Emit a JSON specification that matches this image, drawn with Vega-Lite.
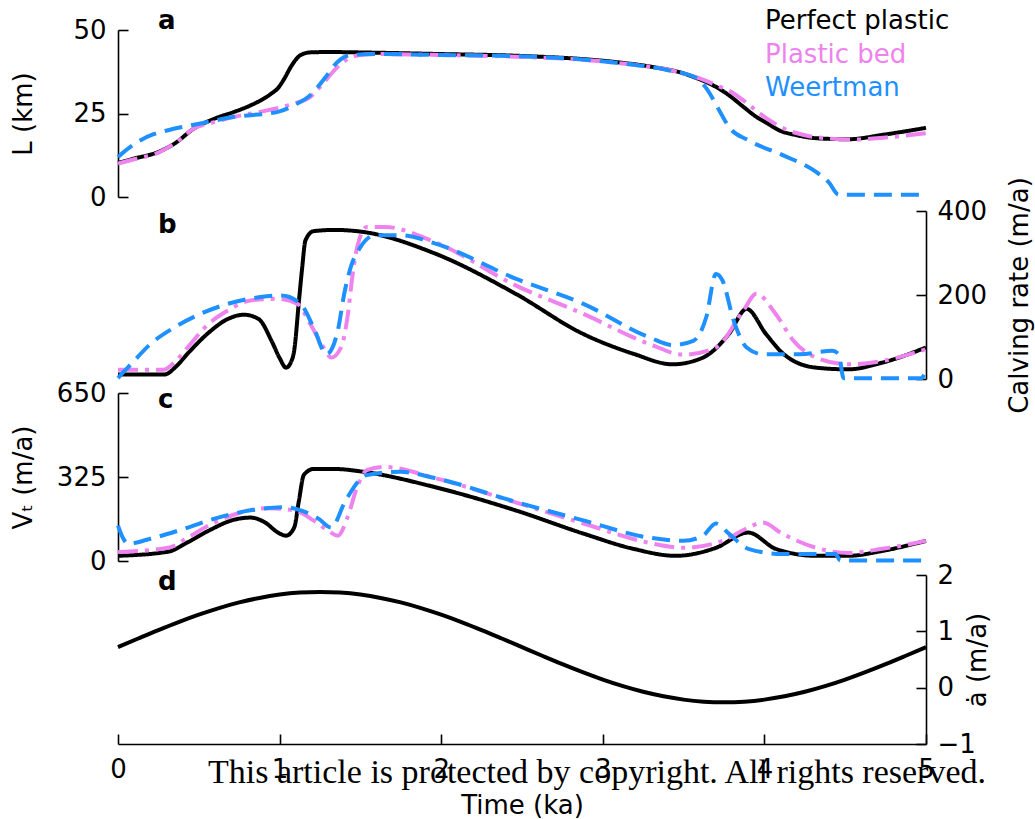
{
  "$schema": "https://vega.github.io/schema/vega-lite/v6.json",
  "padding": {"left": 10, "top": 8, "right": 3, "bottom": 5},
  "background": "white",
  "title": {"text": "This article is protected by copyright. All rights reserved.", "orient": "bottom", "anchor": "middle", "font": "Liberation Serif", "fontSize": 34, "fontWeight": "normal", "color": "black", "offset": -62, "dx": 76},
  "datasets": {
    "L": [
      {"m":"Perfect plastic","t":0,"v":10.2},{"m":"Perfect plastic","t":0.1,"v":11.5},{"m":"Perfect plastic","t":0.25,"v":13.5},{"m":"Perfect plastic","t":0.35,"v":16},{"m":"Perfect plastic","t":0.47,"v":20.5},{"m":"Perfect plastic","t":0.6,"v":23.5},{"m":"Perfect plastic","t":0.72,"v":25.5},{"m":"Perfect plastic","t":0.8,"v":27},{"m":"Perfect plastic","t":0.885,"v":29},{"m":"Perfect plastic","t":0.95,"v":31},{"m":"Perfect plastic","t":0.99,"v":32.6},{"m":"Perfect plastic","t":1.03,"v":35.5},{"m":"Perfect plastic","t":1.07,"v":39},{"m":"Perfect plastic","t":1.13,"v":42.5},{"m":"Perfect plastic","t":1.19,"v":43.3},{"m":"Perfect plastic","t":1.3,"v":43.4},{"m":"Perfect plastic","t":1.6,"v":43.2},{"m":"Perfect plastic","t":2.0,"v":42.8},{"m":"Perfect plastic","t":2.46,"v":42.3},{"m":"Perfect plastic","t":3.08,"v":40.4},{"m":"Perfect plastic","t":3.3,"v":39},{"m":"Perfect plastic","t":3.5,"v":37},{"m":"Perfect plastic","t":3.58,"v":35.6},{"m":"Perfect plastic","t":3.68,"v":33.5},{"m":"Perfect plastic","t":3.78,"v":30.5},{"m":"Perfect plastic","t":3.87,"v":27},{"m":"Perfect plastic","t":3.95,"v":24},{"m":"Perfect plastic","t":4.02,"v":22},{"m":"Perfect plastic","t":4.09,"v":20},{"m":"Perfect plastic","t":4.2,"v":18.5},{"m":"Perfect plastic","t":4.32,"v":17.6},{"m":"Perfect plastic","t":4.52,"v":17.3},{"m":"Perfect plastic","t":4.73,"v":18.6},{"m":"Perfect plastic","t":5.0,"v":20.7},
      {"m":"Plastic bed","t":0,"v":10.0},{"m":"Plastic bed","t":0.1,"v":11.3},{"m":"Plastic bed","t":0.25,"v":13.3},{"m":"Plastic bed","t":0.35,"v":16},{"m":"Plastic bed","t":0.47,"v":20.5},{"m":"Plastic bed","t":0.6,"v":22.5},{"m":"Plastic bed","t":0.72,"v":24},{"m":"Plastic bed","t":0.93,"v":26},{"m":"Plastic bed","t":1.09,"v":28},{"m":"Plastic bed","t":1.19,"v":30},{"m":"Plastic bed","t":1.26,"v":33.5},{"m":"Plastic bed","t":1.34,"v":38},{"m":"Plastic bed","t":1.42,"v":41.3},{"m":"Plastic bed","t":1.5,"v":42.5},{"m":"Plastic bed","t":1.6,"v":42.8},{"m":"Plastic bed","t":2.0,"v":42.5},{"m":"Plastic bed","t":2.46,"v":42},{"m":"Plastic bed","t":3.08,"v":40.2},{"m":"Plastic bed","t":3.5,"v":37},{"m":"Plastic bed","t":3.6,"v":35.5},{"m":"Plastic bed","t":3.7,"v":33.5},{"m":"Plastic bed","t":3.81,"v":31},{"m":"Plastic bed","t":3.92,"v":27},{"m":"Plastic bed","t":4.03,"v":23},{"m":"Plastic bed","t":4.12,"v":20.5},{"m":"Plastic bed","t":4.25,"v":18.5},{"m":"Plastic bed","t":4.4,"v":17.5},{"m":"Plastic bed","t":4.55,"v":17.2},{"m":"Plastic bed","t":4.75,"v":17.8},{"m":"Plastic bed","t":5.0,"v":19.1},
      {"m":"Weertman","t":0,"v":12},{"m":"Weertman","t":0.07,"v":14.8},{"m":"Weertman","t":0.14,"v":17},{"m":"Weertman","t":0.22,"v":18.8},{"m":"Weertman","t":0.31,"v":20},{"m":"Weertman","t":0.51,"v":22},{"m":"Weertman","t":0.72,"v":24},{"m":"Weertman","t":0.99,"v":25.5},{"m":"Weertman","t":1.09,"v":27.5},{"m":"Weertman","t":1.19,"v":30.5},{"m":"Weertman","t":1.28,"v":35.6},{"m":"Weertman","t":1.36,"v":40.5},{"m":"Weertman","t":1.44,"v":42.5},{"m":"Weertman","t":1.6,"v":42.8},{"m":"Weertman","t":2.0,"v":42.5},{"m":"Weertman","t":2.46,"v":42.2},{"m":"Weertman","t":3.08,"v":40.2},{"m":"Weertman","t":3.4,"v":38},{"m":"Weertman","t":3.58,"v":35.6},{"m":"Weertman","t":3.64,"v":32.6},{"m":"Weertman","t":3.72,"v":26},{"m":"Weertman","t":3.78,"v":21},{"m":"Weertman","t":3.9,"v":17},{"m":"Weertman","t":4.11,"v":12.6},{"m":"Weertman","t":4.32,"v":7.5},{"m":"Weertman","t":4.4,"v":4.3},{"m":"Weertman","t":4.46,"v":0.7},{"m":"Weertman","t":4.7,"v":0.7},{"m":"Weertman","t":5.0,"v":0.7}
    ],
    "C": [
      {"m":"Perfect plastic","t":0,"v":11},{"m":"Perfect plastic","t":0.29,"v":11},{"m":"Perfect plastic","t":0.36,"v":30},{"m":"Perfect plastic","t":0.43,"v":60},{"m":"Perfect plastic","t":0.56,"v":110},{"m":"Perfect plastic","t":0.68,"v":143},{"m":"Perfect plastic","t":0.78,"v":153},{"m":"Perfect plastic","t":0.87,"v":143},{"m":"Perfect plastic","t":0.95,"v":91},{"m":"Perfect plastic","t":1.0,"v":50},{"m":"Perfect plastic","t":1.04,"v":27},{"m":"Perfect plastic","t":1.07,"v":40},{"m":"Perfect plastic","t":1.09,"v":67},{"m":"Perfect plastic","t":1.12,"v":187},{"m":"Perfect plastic","t":1.14,"v":266},{"m":"Perfect plastic","t":1.16,"v":330},{"m":"Perfect plastic","t":1.21,"v":352},{"m":"Perfect plastic","t":1.34,"v":355},{"m":"Perfect plastic","t":1.52,"v":350},{"m":"Perfect plastic","t":1.96,"v":299},{"m":"Perfect plastic","t":2.46,"v":203},{"m":"Perfect plastic","t":2.88,"v":107},{"m":"Perfect plastic","t":3.19,"v":60},{"m":"Perfect plastic","t":3.43,"v":35},{"m":"Perfect plastic","t":3.62,"v":51},{"m":"Perfect plastic","t":3.78,"v":107},{"m":"Perfect plastic","t":3.89,"v":167},{"m":"Perfect plastic","t":4.01,"v":107},{"m":"Perfect plastic","t":4.12,"v":59},{"m":"Perfect plastic","t":4.32,"v":27},{"m":"Perfect plastic","t":4.52,"v":23},{"m":"Perfect plastic","t":4.73,"v":39},{"m":"Perfect plastic","t":5.0,"v":75},
      {"m":"Plastic bed","t":0,"v":22},{"m":"Plastic bed","t":0.28,"v":22},{"m":"Plastic bed","t":0.35,"v":40},{"m":"Plastic bed","t":0.43,"v":75},{"m":"Plastic bed","t":0.56,"v":131},{"m":"Plastic bed","t":0.68,"v":163},{"m":"Plastic bed","t":0.82,"v":187},{"m":"Plastic bed","t":0.99,"v":191},{"m":"Plastic bed","t":1.11,"v":179},{"m":"Plastic bed","t":1.19,"v":131},{"m":"Plastic bed","t":1.26,"v":83},{"m":"Plastic bed","t":1.32,"v":51},{"m":"Plastic bed","t":1.38,"v":75},{"m":"Plastic bed","t":1.42,"v":147},{"m":"Plastic bed","t":1.45,"v":243},{"m":"Plastic bed","t":1.48,"v":314},{"m":"Plastic bed","t":1.54,"v":362},{"m":"Plastic bed","t":1.65,"v":362},{"m":"Plastic bed","t":1.96,"v":326},{"m":"Plastic bed","t":2.46,"v":223},{"m":"Plastic bed","t":2.88,"v":155},{"m":"Plastic bed","t":3.29,"v":83},{"m":"Plastic bed","t":3.5,"v":58},{"m":"Plastic bed","t":3.7,"v":75},{"m":"Plastic bed","t":3.87,"v":163},{"m":"Plastic bed","t":3.95,"v":203},{"m":"Plastic bed","t":4.07,"v":155},{"m":"Plastic bed","t":4.18,"v":91},{"m":"Plastic bed","t":4.32,"v":51},{"m":"Plastic bed","t":4.52,"v":35},{"m":"Plastic bed","t":4.73,"v":43},{"m":"Plastic bed","t":5.0,"v":71},
      {"m":"Weertman","t":0,"v":2},{"m":"Weertman","t":0.03,"v":15},{"m":"Weertman","t":0.08,"v":35},{"m":"Weertman","t":0.2,"v":83},{"m":"Weertman","t":0.35,"v":123},{"m":"Weertman","t":0.51,"v":155},{"m":"Weertman","t":0.68,"v":179},{"m":"Weertman","t":0.88,"v":195},{"m":"Weertman","t":1.01,"v":199},{"m":"Weertman","t":1.13,"v":179},{"m":"Weertman","t":1.21,"v":123},{"m":"Weertman","t":1.29,"v":59},{"m":"Weertman","t":1.36,"v":115},{"m":"Weertman","t":1.4,"v":203},{"m":"Weertman","t":1.44,"v":266},{"m":"Weertman","t":1.5,"v":314},{"m":"Weertman","t":1.59,"v":342},{"m":"Weertman","t":1.75,"v":342},{"m":"Weertman","t":1.96,"v":323},{"m":"Weertman","t":2.46,"v":239},{"m":"Weertman","t":2.88,"v":179},{"m":"Weertman","t":3.29,"v":99},{"m":"Weertman","t":3.43,"v":81},{"m":"Weertman","t":3.56,"v":91},{"m":"Weertman","t":3.64,"v":147},{"m":"Weertman","t":3.7,"v":250},{"m":"Weertman","t":3.74,"v":235},{"m":"Weertman","t":3.81,"v":139},{"m":"Weertman","t":3.89,"v":75},{"m":"Weertman","t":3.99,"v":59},{"m":"Weertman","t":4.22,"v":59},{"m":"Weertman","t":4.42,"v":67},{"m":"Weertman","t":4.46,"v":59},{"m":"Weertman","t":4.49,"v":2},{"m":"Weertman","t":4.7,"v":2},{"m":"Weertman","t":4.97,"v":2},{"m":"Weertman","t":5.0,"v":20}
    ],
    "V": [
      {"m":"Perfect plastic","t":0,"v":20},{"m":"Perfect plastic","t":0.31,"v":36},{"m":"Perfect plastic","t":0.43,"v":72},{"m":"Perfect plastic","t":0.56,"v":117},{"m":"Perfect plastic","t":0.72,"v":160},{"m":"Perfect plastic","t":0.82,"v":168},{"m":"Perfect plastic","t":0.91,"v":149},{"m":"Perfect plastic","t":0.99,"v":110},{"m":"Perfect plastic","t":1.04,"v":98},{"m":"Perfect plastic","t":1.09,"v":129},{"m":"Perfect plastic","t":1.12,"v":235},{"m":"Perfect plastic","t":1.15,"v":333},{"m":"Perfect plastic","t":1.21,"v":356},{"m":"Perfect plastic","t":1.34,"v":356},{"m":"Perfect plastic","t":1.52,"v":345},{"m":"Perfect plastic","t":1.96,"v":286},{"m":"Perfect plastic","t":2.46,"v":196},{"m":"Perfect plastic","t":2.88,"v":106},{"m":"Perfect plastic","t":3.19,"v":47},{"m":"Perfect plastic","t":3.45,"v":20},{"m":"Perfect plastic","t":3.7,"v":51},{"m":"Perfect plastic","t":3.9,"v":110},{"m":"Perfect plastic","t":4.07,"v":47},{"m":"Perfect plastic","t":4.32,"v":20},{"m":"Perfect plastic","t":4.52,"v":20},{"m":"Perfect plastic","t":4.73,"v":39},{"m":"Perfect plastic","t":5.0,"v":78},
      {"m":"Plastic bed","t":0,"v":35},{"m":"Plastic bed","t":0.31,"v":51},{"m":"Plastic bed","t":0.43,"v":90},{"m":"Plastic bed","t":0.56,"v":137},{"m":"Plastic bed","t":0.72,"v":180},{"m":"Plastic bed","t":0.93,"v":204},{"m":"Plastic bed","t":1.09,"v":196},{"m":"Plastic bed","t":1.21,"v":157},{"m":"Plastic bed","t":1.3,"v":117},{"m":"Plastic bed","t":1.36,"v":98},{"m":"Plastic bed","t":1.42,"v":168},{"m":"Plastic bed","t":1.48,"v":286},{"m":"Plastic bed","t":1.54,"v":352},{"m":"Plastic bed","t":1.65,"v":364},{"m":"Plastic bed","t":1.96,"v":321},{"m":"Plastic bed","t":2.46,"v":227},{"m":"Plastic bed","t":2.88,"v":145},{"m":"Plastic bed","t":3.29,"v":70},{"m":"Plastic bed","t":3.5,"v":51},{"m":"Plastic bed","t":3.74,"v":78},{"m":"Plastic bed","t":3.9,"v":129},{"m":"Plastic bed","t":3.99,"v":149},{"m":"Plastic bed","t":4.11,"v":106},{"m":"Plastic bed","t":4.32,"v":51},{"m":"Plastic bed","t":4.52,"v":31},{"m":"Plastic bed","t":4.73,"v":47},{"m":"Plastic bed","t":5.0,"v":78},
      {"m":"Weertman","t":0,"v":137},{"m":"Weertman","t":0.03,"v":90},{"m":"Weertman","t":0.06,"v":67},{"m":"Weertman","t":0.2,"v":86},{"m":"Weertman","t":0.41,"v":125},{"m":"Weertman","t":0.62,"v":168},{"m":"Weertman","t":0.82,"v":196},{"m":"Weertman","t":1.03,"v":208},{"m":"Weertman","t":1.13,"v":196},{"m":"Weertman","t":1.24,"v":164},{"m":"Weertman","t":1.32,"v":129},{"m":"Weertman","t":1.4,"v":223},{"m":"Weertman","t":1.46,"v":286},{"m":"Weertman","t":1.54,"v":333},{"m":"Weertman","t":1.75,"v":345},{"m":"Weertman","t":1.96,"v":321},{"m":"Weertman","t":2.46,"v":229},{"m":"Weertman","t":2.88,"v":157},{"m":"Weertman","t":3.29,"v":90},{"m":"Weertman","t":3.5,"v":78},{"m":"Weertman","t":3.62,"v":98},{"m":"Weertman","t":3.7,"v":145},{"m":"Weertman","t":3.78,"v":106},{"m":"Weertman","t":3.9,"v":47},{"m":"Weertman","t":4.11,"v":27},{"m":"Weertman","t":4.32,"v":27},{"m":"Weertman","t":4.44,"v":27},{"m":"Weertman","t":4.47,"v":2},{"m":"Weertman","t":4.97,"v":2},{"m":"Weertman","t":5.0,"v":10}
    ],
    "A": [
      {"t":0,"v":0.72},{"t":0.125,"v":0.873},{"t":0.25,"v":1.023},{"t":0.375,"v":1.165},{"t":0.5,"v":1.296},{"t":0.625,"v":1.413},{"t":0.75,"v":1.513},{"t":0.875,"v":1.593},{"t":1.0,"v":1.652},{"t":1.125,"v":1.688},{"t":1.25,"v":1.7},{"t":1.375,"v":1.688},{"t":1.5,"v":1.652},{"t":1.625,"v":1.593},{"t":1.75,"v":1.513},{"t":1.875,"v":1.413},{"t":2.0,"v":1.296},{"t":2.125,"v":1.165},{"t":2.25,"v":1.023},{"t":2.375,"v":0.873},{"t":2.5,"v":0.72},{"t":2.625,"v":0.567},{"t":2.75,"v":0.417},{"t":2.875,"v":0.275},{"t":3.0,"v":0.144},{"t":3.125,"v":0.027},{"t":3.25,"v":-0.073},{"t":3.375,"v":-0.153},{"t":3.5,"v":-0.212},{"t":3.625,"v":-0.248},{"t":3.75,"v":-0.26},{"t":3.875,"v":-0.248},{"t":4.0,"v":-0.212},{"t":4.125,"v":-0.153},{"t":4.25,"v":-0.073},{"t":4.375,"v":0.027},{"t":4.5,"v":0.144},{"t":4.625,"v":0.275},{"t":4.75,"v":0.417},{"t":4.875,"v":0.567},{"t":5.0,"v":0.72}
    ]
  },
  "bounds": "flush",
  "spacing": 14,
  "resolve": {"scale": {"color": "independent", "strokeDash": "independent"}, "legend": {"color": "independent", "strokeDash": "independent"}},
  "vconcat": [
    {
      "width": 808, "height": 167,
      "title": {"text": "a", "anchor": "start", "frame": "group", "dx": 40, "offset": -47, "baseline": "alphabetic", "fontSize": 26, "fontWeight": "bold", "font": "DejaVu Sans", "color": "black"},
      "data": {"name": "L"},
      "mark": {"type": "line", "strokeWidth": 4, "interpolate": "monotone", "clip": false},
      "encoding": {
        "x": {"field": "t", "type": "quantitative", "scale": {"domain": [0, 5], "nice": false}, "axis": null},
        "y": {"field": "v", "type": "quantitative", "scale": {"domain": [0, 50], "nice": false, "zero": false}, "axis": {"orient": "left", "values": [0, 25, 50], "title": "L (km)", "titleX": -95, "titleAngle": 270, "titleBaseline": "middle", "titleAlign": "center"}},
        "color": {"field": "m", "type": "nominal", "scale": {"domain": ["Perfect plastic", "Plastic bed", "Weertman"], "range": ["#000000", "#EE82EE", "#1E90FF"]},
          "legend": {"orient": "none", "legendX": 621, "legendY": -22, "title": null, "labelFontSize": 26, "labelFont": "DejaVu Sans", "labelLimit": 400, "symbolSize": 0, "symbolOpacity": 0, "symbolStrokeWidth": 0, "symbolType": "circle", "labelOffset": 0, "rowPadding": 7.5, "padding": 0,
            "encode": {"labels": {"update": {"fill": {"signal": "datum.label === 'Plastic bed' ? '#EE82EE' : datum.label === 'Weertman' ? '#1E90FF' : '#000000'"}}}}}},
        "strokeDash": {"field": "m", "type": "nominal", "scale": {"domain": ["Perfect plastic", "Plastic bed", "Weertman"], "range": [[1, 0], [20, 7, 4, 7], [18, 9]]}, "legend": null}
      }
    },
    {
      "width": 808, "height": 168,
      "title": {"text": "b", "anchor": "start", "frame": "group", "dx": 40, "offset": -82, "baseline": "alphabetic", "fontSize": 26, "fontWeight": "bold", "font": "DejaVu Sans", "color": "black"},
      "data": {"name": "C"},
      "mark": {"type": "line", "strokeWidth": 4, "interpolate": "monotone", "clip": false},
      "encoding": {
        "x": {"field": "t", "type": "quantitative", "scale": {"domain": [0, 5], "nice": false}, "axis": null},
        "y": {"field": "v", "type": "quantitative", "scale": {"domain": [0, 400], "nice": false}, "axis": {"orient": "right", "values": [0, 200, 400], "title": "Calving rate (m/a)", "titleX": 93, "titleAngle": 270, "titleBaseline": "middle", "titleAlign": "center", "labelPadding": 21}},
        "color": {"field": "m", "type": "nominal", "scale": {"domain": ["Perfect plastic", "Plastic bed", "Weertman"], "range": ["#000000", "#EE82EE", "#1E90FF"]}, "legend": null},
        "strokeDash": {"field": "m", "type": "nominal", "scale": {"domain": ["Perfect plastic", "Plastic bed", "Weertman"], "range": [[1, 0], [20, 7, 4, 7], [18, 9]]}, "legend": null}
      }
    },
    {
      "width": 808, "height": 168,
      "title": {"text": "c", "anchor": "start", "frame": "group", "dx": 40, "offset": -54, "baseline": "alphabetic", "fontSize": 26, "fontWeight": "bold", "font": "DejaVu Sans", "color": "black"},
      "data": {"name": "V"},
      "mark": {"type": "line", "strokeWidth": 4, "interpolate": "monotone", "clip": false},
      "encoding": {
        "x": {"field": "t", "type": "quantitative", "scale": {"domain": [0, 5], "nice": false}, "axis": null},
        "y": {"field": "v", "type": "quantitative", "scale": {"domain": [0, 650], "nice": false}, "axis": {"orient": "left", "values": [0, 325, 650], "title": "Vₜ (m/a)", "titleX": -95, "titleAngle": 270, "titleBaseline": "middle", "titleAlign": "center"}},
        "color": {"field": "m", "type": "nominal", "scale": {"domain": ["Perfect plastic", "Plastic bed", "Weertman"], "range": ["#000000", "#EE82EE", "#1E90FF"]}, "legend": null},
        "strokeDash": {"field": "m", "type": "nominal", "scale": {"domain": ["Perfect plastic", "Plastic bed", "Weertman"], "range": [[1, 0], [20, 7, 4, 7], [18, 9]]}, "legend": null}
      }
    },
    {
      "width": 808, "height": 169,
      "title": {"text": "d", "anchor": "start", "frame": "group", "dx": 40, "offset": -54, "baseline": "alphabetic", "fontSize": 26, "fontWeight": "bold", "font": "DejaVu Sans", "color": "black"},
      "data": {"name": "A"},
      "mark": {"type": "line", "strokeWidth": 4, "interpolate": "monotone", "clip": false, "color": "black"},
      "encoding": {
        "x": {"field": "t", "type": "quantitative", "scale": {"domain": [0, 5], "nice": false}, "axis": {"orient": "bottom", "values": [0, 1, 2, 3, 4, 5], "title": "Time (ka)", "titleY": 48, "titleBaseline": "top", "labelPadding": 22.5}},
        "y": {"field": "v", "type": "quantitative", "scale": {"domain": [-1, 2], "nice": false, "zero": false}, "axis": {"orient": "right", "values": [-1, 0, 1, 2], "title": "ȧ (m/a)", "titleX": 51, "titleAngle": 270, "titleBaseline": "middle", "titleAlign": "center", "labelPadding": 21}}
      }
    }
  ],
  "config": {
    "view": {"stroke": null},
    "font": "DejaVu Sans",
    "axis": {"domainColor": "black", "domainWidth": 1.6, "tickColor": "black", "tickWidth": 1.6, "tickSize": -10, "labelPadding": 22, "labelFontSize": 26, "labelFont": "DejaVu Sans", "labelColor": "black", "titleFont": "DejaVu Sans", "titleFontSize": 26, "titleFontWeight": "normal", "titleColor": "black", "grid": false, "labelFlush": false, "labelOverlap": false}
  }
}
